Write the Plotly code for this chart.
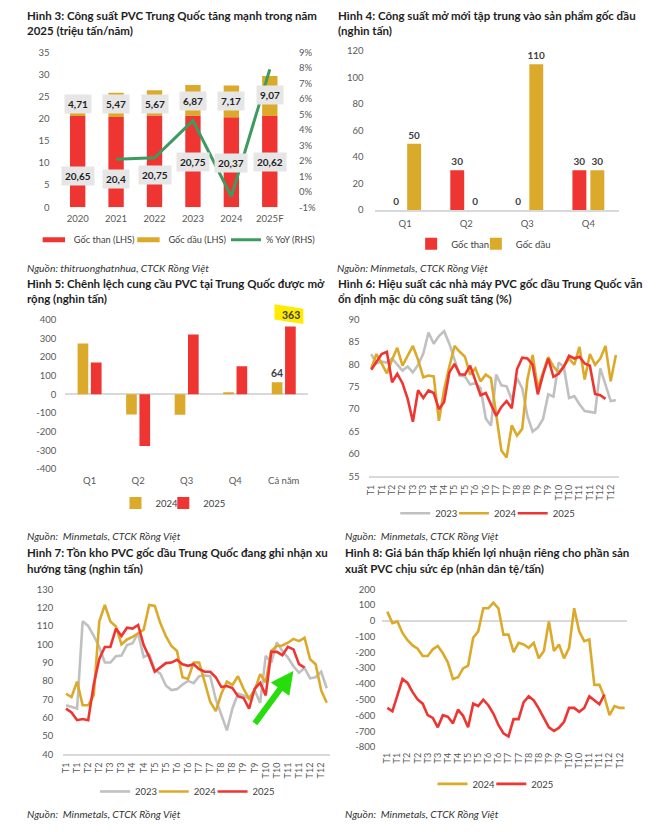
import plotly.graph_objects as go

W, H = 665, 832
def X(px): return px / W
def Y(py): return 1 - py / H

# ---------------- DATA ----------------
# Hình 3
cap_years = ['2020', '2021', '2022', '2023', '2024', '2025F']
cap_coal = [20.65, 20.4, 20.75, 20.75, 20.37, 20.62]
cap_oil = [4.71, 5.47, 5.67, 6.87, 7.17, 9.07]
yoy_years = ['2021', '2022', '2023', '2024', '2025F']
yoy_pct = [2.1, 2.2, 4.6, -0.3, 7.9]

# Hình 4
quarters = ['Q1', 'Q2', 'Q3', 'Q4']
new_coal = [0, 30, 0, 30]
new_oil = [50, 0, 110, 30]

# Hình 5
gap_cats = ['Q1', 'Q2', 'Q3', 'Q4', 'Cả năm']
gap_2024 = [271, -108, -110, 11, 64]
gap_2025 = [170, -277, 320, 150, 363]

# weekly axis labels (Hình 6, 7, 8)
week_tick_labels = ['T1', 'T1', 'T2', 'T2', 'T3', 'T3', 'T4', 'T4', 'T5', 'T5', 'T6', 'T6',
                    'T7', 'T7', 'T8', 'T8', 'T9', 'T9', 'T10', 'T10', 'T11', 'T11', 'T12', 'T12']

# Hình 6 (%)
eff_2023 = [82.3, 80.2, 80.6, 80.4, 81.3, 79.9, 78.6, 79.5, 78.2, 79.9,
            82.4, 87.1, 84.6, 86.3, 87.4, 84.6, 81.0, 77.5, 77.3, 75.5,
            75.8, 74.7, 67.9, 66.3, 77.7, 75.3, 75.1, 72.0, 76.9, 74.7,
            68.5, 65.0, 65.9, 67.8, 73.3, 72.8, 80.4, 79.4, 72.5, 72.9,
            71.1, 69.6, 69.4, 69.2, 79.1, 75.5, 71.8, 72.0]
eff_2024 = [79.1, 82.3, 80.2, 78.0, 81.0, 83.7, 79.7, 81.9, 84.1, 81.0,
            77.1, 77.5, 77.3, 67.4, 74.4, 79.5, 84.1, 82.8, 81.7, 77.7,
            79.1, 76.2, 77.7, 76.9, 68.5, 60.8, 59.2, 66.4, 64.1, 65.6,
            76.6, 82.1, 74.7, 78.4, 81.6, 79.5, 78.2, 79.5, 81.3, 79.9,
            83.9, 76.6, 82.3, 79.9, 81.3, 84.1, 76.2, 82.1]
eff_2025 = [78.8, 80.6, 82.3, 82.8, 76.0, 77.9, 75.8, 72.3, 67.2, 74.2,
            72.5, 74.2, 73.6, 70.0, 71.6, 78.2, 80.1, 77.8, 77.7, 79.7,
            76.6, 73.1, 73.6, 71.1, 68.5, 70.5, 71.8, 70.2, 78.9, 81.5,
            81.3, 79.9, 73.3, 77.7, 81.3, 77.2, 77.9, 79.5, 81.9, 81.3,
            81.7, 80.2, 79.7, 73.4, 73.1, 72.3]

# Hình 7 (nghìn tấn)
inv_2023 = [66.7, 65.8, 64.9, 112.5, 110.0, 104.5, 98.5, 90.0, 90.0, 93.5,
            93.8, 99.5, 100.5, 106.0, 93.0, 94.5, 86.0, 84.0, 77.5, 75.0,
            75.5, 78.0, 80.0, 78.8, 82.5, 83.0, 82.5, 70.0, 62.0, 53.0,
            65.0, 73.0, 72.0, 70.5, 75.0, 68.0, 93.6, 90.0, 101.0, 96.3,
            92.7, 88.0, 84.5, 87.0, 81.4, 82.0, 85.0, 76.0]
inv_2024 = [73.0, 71.2, 79.6, 66.7, 66.7, 72.1, 112.4, 121.4, 112.4, 109.7,
            99.9, 102.6, 104.0, 106.2, 107.9, 121.4, 120.9, 111.5, 104.4, 99.0,
            96.3, 82.0, 81.1, 90.0, 90.0, 79.3, 68.5, 63.5, 73.0, 79.6,
            77.8, 82.5, 75.7, 70.3, 74.8, 83.7, 79.3, 96.3, 99.0, 99.3,
            100.8, 102.9, 101.7, 103.5, 91.8, 89.1, 74.8, 68.1]
inv_2025 = [64.9, 62.8, 58.6, 59.2, 58.6, 78.0, 92.0, 98.5, 98.5, 108.5,
            104.5, 109.0, 108.5, 110.5, 99.5, 93.0, 85.0, 87.3, 89.7, 90.0,
            91.5, 89.1, 88.2, 89.1, 86.4, 85.0, 85.0, 82.0, 76.6, 77.2,
            76.1, 71.7, 70.7, 64.9, 75.7, 78.9, 72.1, 95.8, 95.8, 94.0,
            98.6, 97.2, 89.1, 87.3]

# Hình 8 (nhân dân tệ/tấn)
profit_2024 = [58, -15, -4, -77, -123, -156, -177, -223, -223, -181,
               -160, -206, -265, -369, -358, -302, -285, -108, -67, 79,
               79, 115, 79, -88, -88, -198, -140, -150, -171, -140,
               -238, -192, -4, -192, -150, -238, -171, 79, -67, -129,
               -119, -406, -406, -483, -598, -540, -552, -552]
profit_2025 = [-552, -573, -473, -369, -394, -452, -498, -525, -598, -615,
               -675, -598, -608, -650, -563, -602, -675, -525, -540, -500,
               -535, -588, -660, -713, -733, -623, -623, -515, -479, -504,
               -556, -619, -675, -698, -677, -640, -552, -552, -577, -552,
               -479, -504, -529, -467]

# ---------------- STYLE ----------------
FONT = "Lato, 'Noto Sans', sans-serif"
RED = '#EE3532'
GOLD = '#DCAA2B'
GREY = '#C0C0C0'
GREEN = '#3D9B5F'
TICK = '#595959'
AXL = '#D9D9D9'
TXT = '#1E1E1E'

def vn(v):
    return ('%g' % v).replace('.', ',')

tickfont = dict(family=FONT, size=9.5, color=TICK)
lblfont = dict(family=FONT, size=10, color='#404040', weight='bold')

# one legend box per entry so each key can sit where the original has it
LEG = {}
def legend_slot(name, start_px, cy_px, fsize=9.5):
    LEG[name] = dict(orientation='h', x=X(start_px - 2), y=Y(cy_px), xanchor='left', yanchor='middle',
                     font=dict(family=FONT, size=fsize, color='#404040'), bgcolor='rgba(0,0,0,0)',
                     itemwidth=30, tracegroupgap=0, itemsizing='trace',
                     itemclick=False, itemdoubleclick=False)
    return name

fig = go.Figure()

# ---- Hình 3 ----
fig.add_trace(go.Bar(x=cap_years, y=cap_coal, xaxis='x', yaxis='y', name='Gốc than (LHS)',
                     marker=dict(color=RED, line=dict(width=0)), width=0.4, offset=-0.2,
                     showlegend=False))
fig.add_trace(go.Bar(x=cap_years, y=cap_oil, base=cap_coal, xaxis='x', yaxis='y', name='Gốc dầu (LHS)',
                     marker=dict(color=GOLD, line=dict(width=0)), width=0.4, offset=-0.2,
                     showlegend=False))
for col, nm, lg in [(RED, 'Gốc than (LHS)', legend_slot('legend', 33, 237, 9.2)),
                    (GOLD, 'Gốc dầu (LHS)', legend_slot('legend2', 128, 237, 9.2))]:
    fig.add_trace(go.Scatter(x=[None], y=[None], xaxis='x', yaxis='y', mode='markers', name=nm,
                             marker=dict(symbol='line-ew', size=16, color=col,
                                         line=dict(color=col, width=5)),
                             legend=lg))
fig.add_trace(go.Scatter(x=yoy_years, y=yoy_pct, xaxis='x', yaxis='y2', mode='lines', name='% YoY (RHS)',
                         line=dict(color=GREEN, width=3), legend=legend_slot('legend3', 226, 237, 9.2)))

# ---- Hình 4 ----
fig.add_trace(go.Bar(x=quarters, y=new_coal, xaxis='x2', yaxis='y3', name='Gốc than',
                     marker=dict(color=RED, line=dict(width=0)), width=0.228, offset=-0.261,
                     text=[str(v) for v in new_coal], textposition='outside', cliponaxis=False,
                     constraintext='none', textfont=lblfont,
                     legend=legend_slot('legend4', 412, 241)))
fig.add_trace(go.Bar(x=quarters, y=new_oil, xaxis='x2', yaxis='y3', name='Gốc dầu',
                     marker=dict(color=GOLD, line=dict(width=0)), width=0.228, offset=0.033,
                     text=[str(v) for v in new_oil], textposition='outside', cliponaxis=False,
                     constraintext='none', textfont=lblfont,
                     legend=legend_slot('legend5', 477, 241)))

# ---- Hình 5 ----
fig.add_trace(go.Bar(x=gap_cats, y=gap_2024, xaxis='x3', yaxis='y4', name='2024',
                     marker=dict(color=GOLD, line=dict(width=0)), width=0.22, offset=-0.247,
                     text=[''] * (len(gap_2024) - 1) + [str(gap_2024[-1])], textposition='outside',
                     cliponaxis=False, constraintext='none',
                     textfont=dict(family=FONT, size=10.5, color='#404040', weight='bold'),
                     legend=legend_slot('legend6', 115, 503.7)))
fig.add_trace(go.Bar(x=gap_cats, y=gap_2025, xaxis='x3', yaxis='y4', name='2025',
                     marker=dict(color=RED, line=dict(width=0)), width=0.22, offset=0.027,
                     legend=legend_slot('legend7', 163, 503.7)))

# ---- Hình 6 ----
for arr, col, nm, lg in [(eff_2023, GREY, '2023', legend_slot('legend8', 396, 514)),
                         (eff_2024, GOLD, '2024', legend_slot('legend9', 455, 514)),
                         (eff_2025, RED, '2025', legend_slot('legend10', 514, 514))]:
    fig.add_trace(go.Scatter(x=list(range(len(arr))), y=arr, xaxis='x4', yaxis='y5', mode='lines',
                             name=nm, line=dict(color=col, width=2.6), legend=lg))

# ---- Hình 7 ----
for arr, col, nm, lg in [(inv_2023, GREY, '2023', legend_slot('legend11', 94.5, 796)),
                         (inv_2024, GOLD, '2024', legend_slot('legend12', 153.5, 796)),
                         (inv_2025, RED, '2025', legend_slot('legend13', 212.5, 796))]:
    fig.add_trace(go.Scatter(x=list(range(len(arr))), y=arr, xaxis='x5', yaxis='y6', mode='lines',
                             name=nm, line=dict(color=col, width=2.6), legend=lg))

# ---- Hình 8 ----
for arr, col, nm, lg in [(profit_2024, GOLD, '2024', legend_slot('legend14', 433.5, 788.3)),
                         (profit_2025, RED, '2025', legend_slot('legend15', 492.5, 788.3))]:
    fig.add_trace(go.Scatter(x=list(range(len(arr))), y=arr, xaxis='x6', yaxis='y7', mode='lines',
                             name=nm, line=dict(color=col, width=2.6), legend=lg))

# ---------------- AXES ----------------
def yax(dom, rng, dt, standoff, **kw):
    vals = list(range(rng[0], rng[1] + 1, dt))
    d = dict(domain=dom, range=rng, tickvals=vals, ticktext=[str(v) for v in vals],
             showgrid=False, zeroline=False, showline=False, ticks='', tickfont=tickfont,
             ticklabelstandoff=standoff, fixedrange=True)
    d.update(kw)
    return d

week_ticks = list(range(0, 48, 2))

def wax(dom, anchor, rng, line=True):
    return dict(domain=dom, anchor=anchor, range=rng, tickvals=week_ticks, ticktext=week_tick_labels,
                tickangle=-90, showgrid=False, zeroline=False, showline=line, linecolor=AXL,
                linewidth=1.5, ticks='', tickfont=dict(family=FONT, size=9, color=TICK),
                ticklabelstandoff=3)

layout = dict(
    width=W, height=H, autosize=False,
    margin=dict(l=0, r=0, t=0, b=0),
    paper_bgcolor='white', plot_bgcolor='rgba(0,0,0,0)',
    font=dict(family=FONT, color=TXT),
    barmode='group',
    showlegend=True,
    # Hình 3
    xaxis=dict(domain=[X(55.7), X(287.3)], anchor='y', type='category', categoryarray=cap_years,
               categoryorder='array', range=[-0.5, 5.5], showgrid=False, zeroline=False,
               showline=False, ticks='', tickfont=tickfont, ticklabelstandoff=4),
    yaxis=yax([Y(204), Y(47)], [0, 35], 5, 8, anchor='x'),
    yaxis2=dict(overlaying='y', side='right', anchor='x', range=[-1, 9],
                tickvals=list(range(-1, 10)), ticktext=['%d%%' % v for v in range(-1, 10)],
                showgrid=False, zeroline=False, showline=False, ticks='', tickfont=tickfont,
                ticklabelstandoff=9),
    # Hình 4
    xaxis2=dict(domain=[X(373.3), X(618.7)], anchor='y3', type='category', range=[-0.5, 3.5],
                showgrid=False, zeroline=False, showline=True, linecolor=AXL, linewidth=1.5,
                ticks='', tickfont=tickfont, ticklabelstandoff=4),
    yaxis3=yax([Y(206.7), Y(45.7)], [0, 120], 20, 10, anchor='x2'),
    # Hình 5
    xaxis3=dict(domain=[X(62.6), X(306.4)], anchor='y4', type='category', range=[-0.5, 4.5],
                showgrid=False, zeroline=False, showline=False, ticks='', tickfont=tickfont,
                ticklabelstandoff=4),
    yaxis4=yax([Y(469.3), Y(317.7)], [-400, 400], 100, 8, anchor='x3',
               zeroline=True, zerolinecolor=AXL, zerolinewidth=1.5),
    # Hình 6
    xaxis4=wax([X(367.3), X(618.3)], 'y5', [-0.5, 47.5]),
    yaxis5=yax([Y(476.7), Y(317.7)], [55, 90], 5, 8, anchor='x4'),
    # Hình 7
    xaxis5=wax([X(60.5), X(328)], 'y6', [-0.5, 47.5]),
    yaxis6=yax([Y(758.3), Y(591)], [40, 130], 10, 9, anchor='x5'),
    # Hình 8
    xaxis6=wax([X(381), X(627)], 'y7', [-1, 47.5], line=False),
    yaxis7=yax([Y(751), Y(591)], [-800, 200], 100, 6, anchor='x6',
               zeroline=True, zerolinecolor=AXL, zerolinewidth=1.5),
)
layout.update(LEG)
fig.update_layout(**layout)

# ---------------- TEXT ----------------
ann = []
def title(px, py, text):
    ann.append(dict(x=X(px), y=Y(py), xref='paper', yref='paper', xanchor='left', yanchor='middle',
                    text='<b>%s</b>' % text, showarrow=False,
                    font=dict(family=FONT, size=11.5, color=TXT)))

def source(px, py, text):
    ann.append(dict(x=X(px), y=Y(py), xref='paper', yref='paper', xanchor='left', yanchor='middle',
                    text='<i>%s</i>' % text, showarrow=False,
                    font=dict(family=FONT, size=10.3, color='#333333')))

title(22, 10, 'Hình 3: Công suất PVC Trung Quốc tăng mạnh trong năm')
title(22, 25, '2025 (triệu tấn/năm)')
title(335, 10, 'Hình 4: Công suất mở mới tập trung vào sản phẩm gốc dầu')
title(335, 25, '(nghìn tấn)')
title(22, 281, 'Hình 5: Chênh lệch cung cầu PVC tại Trung Quốc được mở')
title(22, 296, 'rộng (nghìn tấn)')
title(335, 281, 'Hình 6: Hiệu suất các nhà máy PVC gốc dầu Trung Quốc vẫn')
title(335, 296, 'ổn định mặc dù công suất tăng (%)')
title(22, 554, 'Hình 7: Tồn kho PVC gốc dầu Trung Quốc đang ghi nhận xu')
title(22, 570.5, 'hướng tăng (nghìn tấn)')
title(342, 554, 'Hình 8: Giá bán thấp khiến lợi nhuận riêng cho phần sản')
title(342, 570.5, 'xuất PVC chịu sức ép (nhân dân tệ/tấn)')

source(22, 265.7, 'Nguồn: thitruonghatnhua, CTCK Rồng Việt')
source(334, 265.7, 'Nguồn: Minmetals, CTCK Rồng Việt')
source(22, 537.3, 'Nguồn:  Minmetals, CTCK Rồng Việt')
source(342, 537.3, 'Nguồn:  Minmetals, CTCK Rồng Việt')
source(22, 819, 'Nguồn:  Minmetals, CTCK Rồng Việt')
source(342, 819, 'Nguồn:  Minmetals, CTCK Rồng Việt')

# Hình 3 value boxes (label placement heights are styling)
coal_label_pos = [7.0, 6.5, 7.2, 10.2, 10.0, 10.2]
oil_label_pos = [23.3, 23.3, 23.3, 24.1, 24.1, 25.3]
for i, yr in enumerate(cap_years):
    for v, ypos in [(cap_coal[i], coal_label_pos[i]), (cap_oil[i], oil_label_pos[i])]:
        ann.append(dict(x=i, y=ypos, xref='x', yref='y', text='<b>%s</b>' % vn(v), showarrow=False,
                        bgcolor='#E6E6E6', borderpad=3,
                        font=dict(family=FONT, size=10, color=TXT)))

# Hình 5 highlighted total
ann.append(dict(x=len(gap_cats) - 1, y=gap_2025[-1], xref='x3', yref='y4', yanchor='bottom', yshift=3,
                xshift=7, text='<b>%d</b>' % gap_2025[-1], showarrow=False,
                font=dict(family=FONT, size=10.5, color='#404040')))

def ppath(pts):
    return 'M ' + ' L '.join('%f,%f' % (X(a), Y(b)) for a, b in pts) + ' Z'

shapes = [
    dict(type='path', xref='paper', yref='paper', layer='above',
         path=ppath([(272.7, 302.3), (301.7, 306.7), (301.7, 322.3), (272.7, 317.7)]),
         fillcolor='#FFEB00', line=dict(width=0)),
    dict(type='path', xref='paper', yref='paper', layer='above',
         path=ppath([(255.4, 728.8), (280.7, 694.1), (287.6, 699.1), (291.7, 674),
                     (269.0, 685.5), (275.9, 690.5), (250.6, 725.2)]),
         fillcolor='#27DD0B', line=dict(width=0)),
]

fig.update_layout(annotations=ann, shapes=shapes)
fig.write_html('out.html', config={'displayModeBar': False},
               post_script="document.body.style.margin='0';")
